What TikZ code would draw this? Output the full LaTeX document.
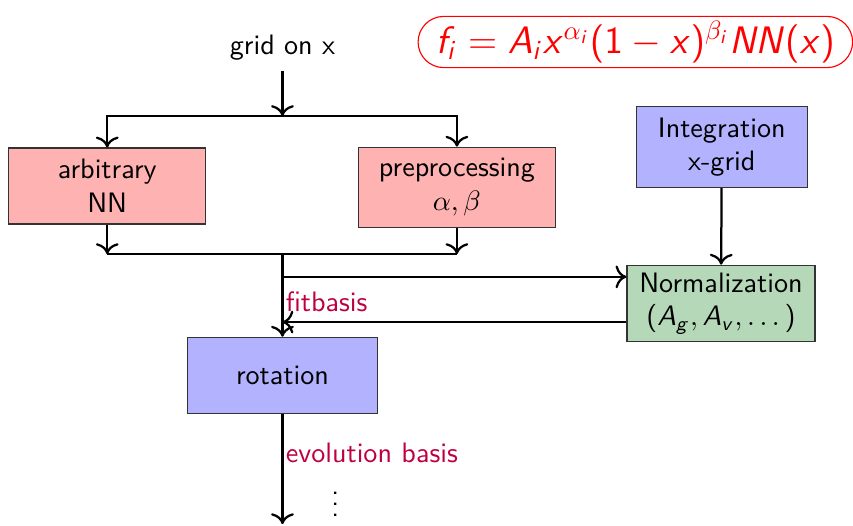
\documentclass[tikz,border=0pt]{standalone}
\usepackage{amsmath}
\usepackage{graphicx}
\usepackage{tikz}
\usetikzlibrary{positioning,calc,arrows.meta}
\definecolor{normgreen}{RGB}{180,216,184}
\renewcommand{\familydefault}{\sfdefault}
% sans serif math letters and digits, greek stays as it is
\DeclareSymbolFont{operators}{OT1}{cmss}{m}{n}
\DeclareSymbolFont{sfletters}{OT1}{cmss}{m}{sl}
\DeclareMathSymbol{f}{\mathalpha}{sfletters}{`f}
\DeclareMathSymbol{i}{\mathalpha}{sfletters}{`i}
\DeclareMathSymbol{g}{\mathalpha}{sfletters}{`g}
\DeclareMathSymbol{v}{\mathalpha}{sfletters}{`v}
\DeclareMathSymbol{x}{\mathalpha}{sfletters}{`x}
\DeclareMathSymbol{A}{\mathalpha}{sfletters}{`A}
\DeclareMathSymbol{N}{\mathalpha}{sfletters}{`N}

\begin{document}
\begin{tikzpicture}[
    >={To[scale=1.15]},
    block/.style={draw=black!80, minimum width=2.46cm, minimum height=0.95cm, align=center, inner sep=2pt},
    line/.style={thick},
    basis/.style={text=purple, anchor=west, inner sep=1pt}
]
\useasboundingbox (0,0) rectangle (10.66,-6.5625);

\node (grid) at (3.53,-0.60) {grid on x};
\node[draw=red, text=red, fill=white, rounded corners=3.2mm, minimum width=5.43cm, minimum height=0.64cm, inner sep=1pt,
      font=\Large] (fi) at (7.94,-0.525)
    {\scalebox{0.945}{$f_i = A_i x^{\alpha_i}(1-x)^{\beta_i} NN(x)$}};

\node[block, fill=red!30] (arb) at (1.34,-2.325) {arbitrary\\NN};
\node[block, fill=red!30, minimum height=1cm] (pre) at (5.71,-2.34) {preprocessing\\$\alpha,\beta$};
\node[block, fill=blue!30, minimum width=2.14cm, minimum height=1.01cm] (int) at (9.02,-1.84) {Integration\\x-grid};
\node[block, fill=normgreen, minimum width=2.35cm] (norm) at (9.01,-3.79) {Normalization\\$(A_g,A_v,\dots)$};
\node[block, fill=blue!30, minimum width=2.38cm] (rot) at (3.53,-4.69) {rotation};

\coordinate (split) at (3.53,-1.45);
\coordinate (merge) at (3.53,-3.175);
\coordinate (end) at (3.53,-6.55);

% split into the two branches
\draw[line,->] (grid) -- (split);
\draw[line,->] (split) -| (arb);
\draw[line,->] (split) -| (pre);

% join again
\draw[line,->] (arb) -- (arb |- merge);
\draw[line,->] (pre) -- (pre |- merge);
\draw[line] (arb |- merge) -- (pre |- merge);
\draw[line,->] (merge) -- (rot);

% normalization loop
\coordinate (nin) at ([yshift=3.3mm]norm.west);
\coordinate (nout) at ([yshift=-2.35mm]norm.west);
\draw[line,->] (int) -- (norm);
\draw[line,->] (merge |- nin) -- (nin);
\draw[line,->] (nout) -- (merge |- nout);

\node[basis] (fit) at (3.53,-3.775) {fitbasis};
\node[basis] (evo) at (3.53,-5.66) {evolution basis};
\node (dots) at (4.19,-6.2) {$\vdots$};
\draw[line,->] (rot) -- (end);
\end{tikzpicture}
\end{document}
